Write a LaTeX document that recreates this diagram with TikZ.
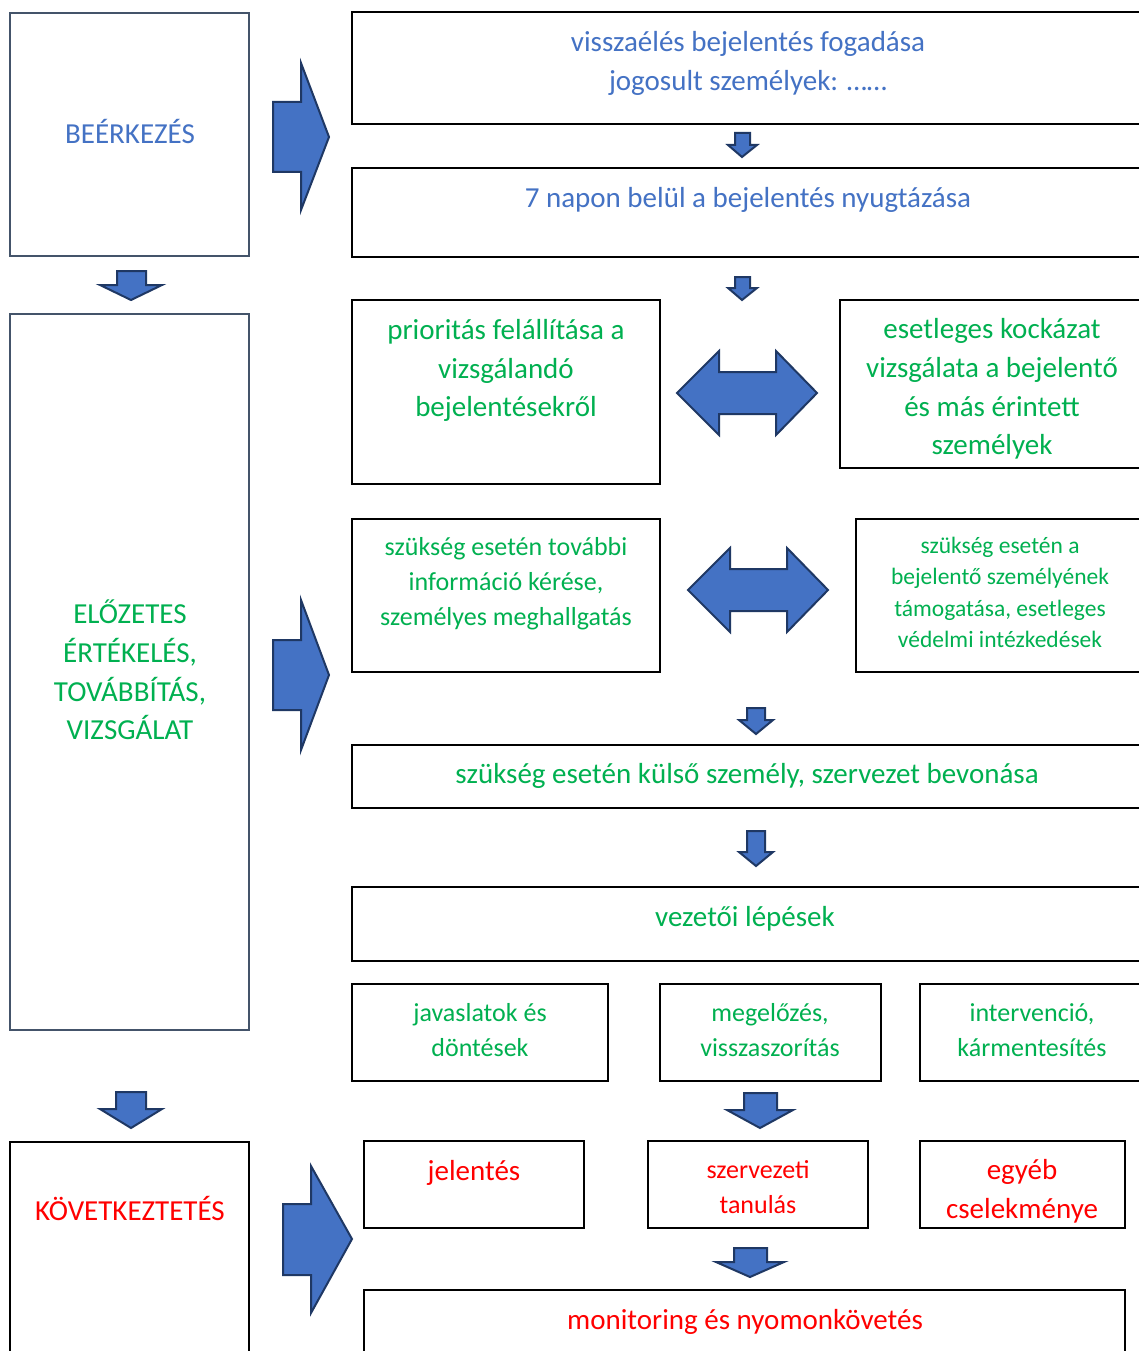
\documentclass[tikz,border=0pt]{standalone}
\usepackage{fontspec}
\setmainfont{Carlito}
\definecolor{tblue}{HTML}{4472C4}
\definecolor{tgreen}{HTML}{00B050}
\definecolor{tred}{HTML}{FF0000}
\definecolor{lgray}{HTML}{44546A}
\definecolor{afill}{HTML}{4472C4}
\definecolor{aline}{HTML}{1F3864}
\tikzset{
  rbox/.style={draw=black, line width=2pt, inner sep=0pt, outer sep=0pt},
  lbox/.style={draw=lgray, line width=2.5pt, inner sep=0pt, outer sep=0pt},
  barrow/.style={fill=afill, draw=aline, line width=2pt, line join=miter},
  txt/.style={inner sep=0pt, align=center, font=\fontsize{29}{38.6}\selectfont},
  txtm/.style={inner sep=0pt, align=center, font=\fontsize{26}{35}\selectfont},
  txts/.style={inner sep=0pt, align=center, font=\fontsize{23.5}{31.3}\selectfont},
}
\begin{document}
\begin{tikzpicture}[x=1pt,y=-1pt]
\useasboundingbox (0,0) rectangle (1139,1351);
\clip (0,0) rectangle (1139,1351);
\fill[white] (0,0) rectangle (1139,1351);
% left column boxes
\node[lbox, minimum width=239pt, minimum height=243pt] (L1) at (129.5,134.5) {};
\node[lbox, minimum width=239pt, minimum height=716pt] (L2) at (129.5,672) {};
\node[rbox, minimum width=239pt, minimum height=218pt] (L3) at (129.5,1251) {};
\node[txt, text=tblue] (tL1) at (130,131) {BEÉRKEZÉS};
\node[txt, text=tgreen] (tL2) at (130,670) {ELŐZETES\\ÉRTÉKELÉS,\\TOVÁBBÍTÁS,\\VIZSGÁLAT};
\node[txt, text=tred] (tL3) at (130,1208) {KÖVETKEZTETÉS};
% right column boxes
\node[rbox, minimum width=798pt, minimum height=112pt] (R1) at (751,68) {};
\node[rbox, minimum width=798pt, minimum height=89pt] (R2) at (751,212.5) {};
\node[rbox, minimum width=308pt, minimum height=184pt] (R3) at (506,392) {};
\node[rbox, minimum width=310pt, minimum height=168pt] (R4) at (995,384) {};
\node[rbox, minimum width=308pt, minimum height=153pt] (R5) at (506,595.5) {};
\node[rbox, minimum width=294pt, minimum height=153pt] (R6) at (1003,595.5) {};
\node[rbox, minimum width=798pt, minimum height=63pt] (R7) at (751,776.5) {};
\node[rbox, minimum width=798pt, minimum height=74pt] (R8) at (751,924) {};
\node[rbox, minimum width=256pt, minimum height=97pt] (R9) at (480,1032.5) {};
\node[rbox, minimum width=221pt, minimum height=97pt] (R10) at (770.5,1032.5) {};
\node[rbox, minimum width=230pt, minimum height=97pt] (R11) at (1035,1032.5) {};
\node[rbox, minimum width=220pt, minimum height=87pt] (R12) at (474,1184.5) {};
\node[rbox, minimum width=220pt, minimum height=87pt] (R13) at (758,1184.5) {};
\node[rbox, minimum width=205pt, minimum height=87pt] (R14) at (1022.5,1184.5) {};
\node[rbox, minimum width=761pt, minimum height=70pt] (R15) at (744.5,1325) {};
% texts
\node[txt, text=tblue] (t1) at (748,63.5) {visszaélés bejelentés fogadása\\jogosult személyek: ……};
\node[txt, text=tblue] (t2) at (748,200) {7 napon belül a bejelentés nyugtázása};
\node[txt, text=tgreen] (t3) at (506,370.5) {prioritás felállítása a\\vizsgálandó\\bejelentésekről};
\node[txt, text=tgreen] (t4) at (992,389) {esetleges kockázat\\vizsgálata a bejelentő\\és más érintett\\személyek};
\node[txtm, text=tgreen] (t5) at (506,584) {szükség esetén további\\információ kérése,\\személyes meghallgatás};
\node[txts, text=tgreen] (t6) at (1000,592.5) {szükség esetén a\\bejelentő személyének\\támogatása, esetleges\\védelmi intézkedések};
\node[txt, text=tgreen] (t7) at (747,776) {szükség esetén külső személy, szervezet bevonása};
\node[txt, text=tgreen] (t8) at (745,919) {vezetői lépések};
\node[txtm, text=tgreen] (t9) at (480,1030) {javaslatok és\\döntések};
\node[txtm, text=tgreen] (t10) at (770,1030) {megelőzés,\\visszaszorítás};
\node[txtm, text=tgreen] (t11) at (1032,1030) {intervenció,\\kármentesítés};
\node[txt, text=tred] (t12) at (474,1173) {jelentés};
\node[txtm, text=tred] (t13) at (758,1187) {szervezeti\\tanulás};
\node[txt, text=tred] (t14) at (1022,1191) {egyéb\\cselekménye};
\node[txt, text=tred] (t15) at (745,1322) {monitoring és nyomonkövetés};
% big right arrows
\draw[barrow] (273,102) -- (301,102) -- (301,63) -- (329,137) -- (301,210) -- (301,172) -- (273,172) -- cycle;
\draw[barrow] (273,640) -- (301,640) -- (301,600) -- (329,675) -- (301,750) -- (301,710) -- (273,710) -- cycle;
\draw[barrow] (283,1204) -- (311,1204) -- (311,1166) -- (352,1239) -- (311,1313) -- (311,1275) -- (283,1275) -- cycle;
% double arrows
\draw[barrow] (677,393) -- (719,351) -- (719,372) -- (776,372) -- (776,351) -- (817,393) -- (776,435) -- (776,414) -- (719,414) -- (719,435) -- cycle;
\draw[barrow] (688,590) -- (730,548) -- (730,569) -- (787,569) -- (787,548) -- (828,590) -- (787,632) -- (787,611) -- (730,611) -- (730,632) -- cycle;
% small down arrows
\draw[barrow] (117,271) -- (146,271) -- (146,285) -- (162,285) -- (131,300) -- (100,285) -- (117,285) -- cycle;
\draw[barrow] (116,1092) -- (146,1092) -- (146,1109) -- (162,1109) -- (131,1128) -- (100,1109) -- (116,1109) -- cycle;
\draw[barrow] (735,133) -- (750,133) -- (750,145) -- (757,145) -- (742,157) -- (728,145) -- (735,145) -- cycle;
\draw[barrow] (735,277) -- (750,277) -- (750,288) -- (757,288) -- (742,300) -- (728,288) -- (735,288) -- cycle;
\draw[barrow] (747,708) -- (765,708) -- (765,720) -- (773,720) -- (756,734) -- (739,720) -- (747,720) -- cycle;
\draw[barrow] (747,831) -- (765,831) -- (765,852) -- (773,852) -- (756,866) -- (739,852) -- (747,852) -- cycle;
\draw[barrow] (744,1093) -- (777,1093) -- (777,1110) -- (793,1110) -- (760,1128) -- (727,1110) -- (744,1110) -- cycle;
\draw[barrow] (734,1248) -- (767,1248) -- (767,1262) -- (784,1262) -- (750,1277) -- (716,1262) -- (734,1262) -- cycle;
\end{tikzpicture}
\end{document}
